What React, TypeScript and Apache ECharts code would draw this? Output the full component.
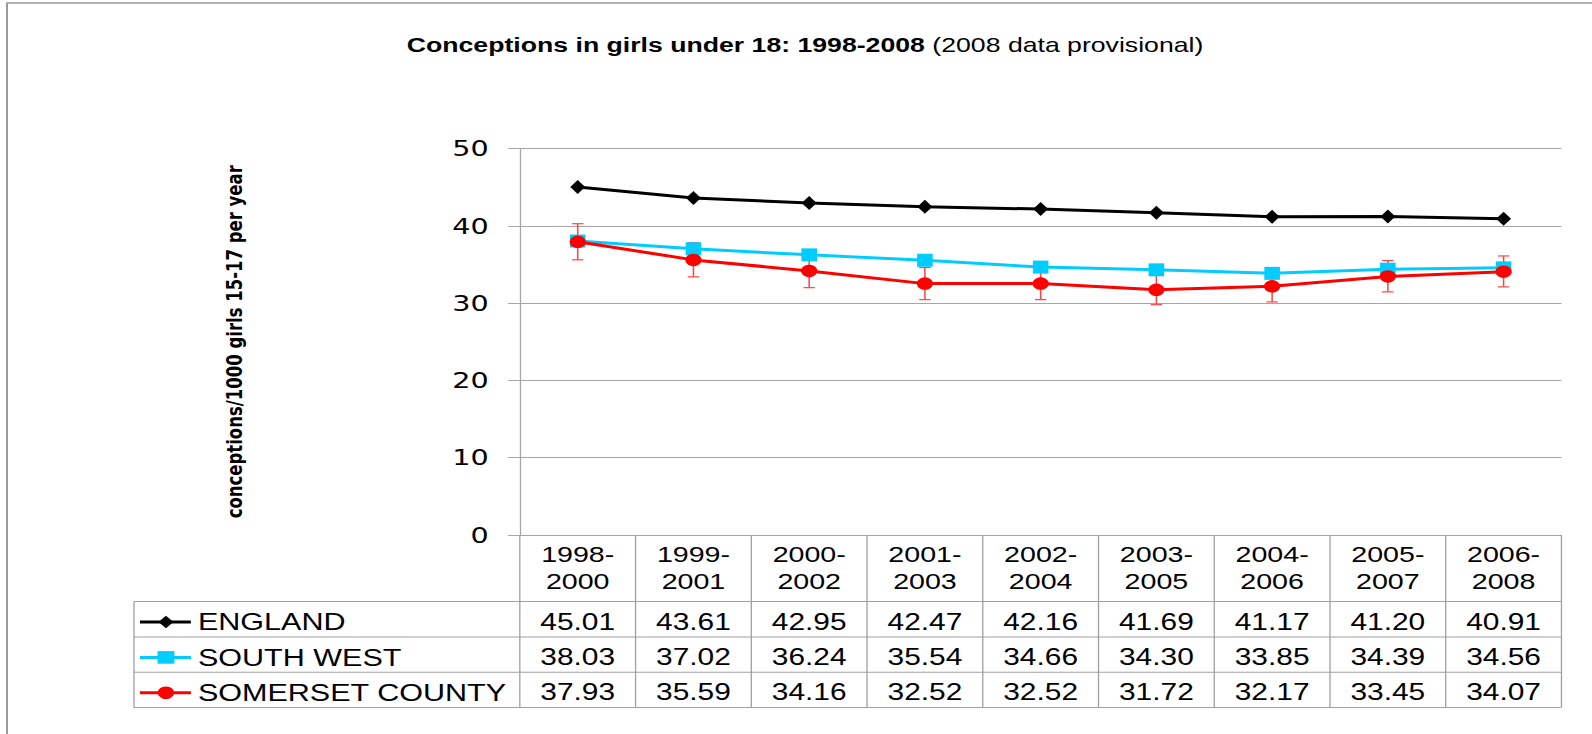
import React, { useEffect, useRef } from 'react';
import * as echarts from 'echarts';

// ---------- data ----------
const TITLE_BOLD = 'Conceptions in girls under 18: 1998-2008';
const TITLE_NORMAL = ' (2008 data provisional)';
const Y_AXIS_NAME = 'conceptions/1000 girls 15-17 per year';

const categories = [
  '1998-2000', '1999-2001', '2000-2002', '2001-2003', '2002-2004',
  '2003-2005', '2004-2006', '2005-2007', '2006-2008',
];
const seriesNames = ['ENGLAND', 'SOUTH WEST', 'SOMERSET COUNTY'];
const england = [45.01, 43.61, 42.95, 42.47, 42.16, 41.69, 41.17, 41.2, 40.91];
const southWest = [38.03, 37.02, 36.24, 35.54, 34.66, 34.3, 33.85, 34.39, 34.56];
const somerset = [37.93, 35.59, 34.16, 32.52, 32.52, 31.72, 32.17, 33.45, 34.07];
// error bar extents (95% CI) for Somerset
const somersetLow = [35.6, 33.4, 32.0, 30.45, 30.45, 29.8, 30.15, 31.45, 32.1];
const somersetHigh = [40.27, 37.8, 36.3, 34.6, 34.6, 33.65, 34.2, 35.5, 36.1];
const yMin = 0;
const yMax = 50;
const yInterval = 10;

// ---------- styling ----------
const colors = ['#000000', '#00ccff', '#ff0000'];
const CHART_W = 1225;
const CHART_H = 734;
const STRETCH = 1592 / CHART_W;
const GRID_COLOR = '#a6a6a6';
const TABLE_COLOR = '#a0a0a0';
const TABLE_FONT = 'Liberation Sans, Arial, sans-serif';

export default function App() {
  const ref = useRef<HTMLDivElement>(null);

  useEffect(() => {
    document.body.style.overflow = 'hidden';
    const el = ref.current!;
    const chart = echarts.init(el, null, { renderer: 'svg' });

    const symbols = ['diamond', 'rect', 'circle'];
    const symbolSizes: any[] = [[11.5, 14], [12, 13], 12.5];
    const seriesData = [england, southWest, somerset];

    const lineSeries = seriesData.map((d, i) => ({
      type: 'line',
      name: seriesNames[i],
      data: d,
      z: 2 + i,
      symbol: symbols[i],
      symbolSize: symbolSizes[i],
      showSymbol: true,
      itemStyle: { color: colors[i] },
      lineStyle: { color: colors[i], width: 3 },
      emphasis: { disabled: true },
    }));

    const errorSeries = {
      type: 'custom',
      name: 'CI',
      z: 1,
      data: somersetLow.map((lo, i) => [i, lo, somersetHigh[i]]),
      encode: { x: 0, y: [1, 2] },
      renderItem: (params: any, api: any) => {
        const x = api.value(0);
        const lo = api.coord([x, api.value(1)]);
        const hi = api.coord([x, api.value(2)]);
        const cap = 4.4;
        const style = { stroke: '#ff4545', lineWidth: 1.2 };
        return {
          type: 'group',
          children: [
            { type: 'line', shape: { x1: lo[0], y1: lo[1], x2: hi[0], y2: hi[1] }, style },
            { type: 'line', shape: { x1: lo[0] - cap, y1: lo[1], x2: lo[0] + cap, y2: lo[1] }, style },
            { type: 'line', shape: { x1: hi[0] - cap, y1: hi[1], x2: hi[0] + cap, y2: hi[1] }, style },
          ],
        };
      },
    };

    const option: any = {
      animation: false,
      backgroundColor: '#ffffff',
      title: {
        text: `{b|${TITLE_BOLD}}{n|${TITLE_NORMAL}}`,
        left: 308,
        top: 29,
        textStyle: {
          rich: {
            b: { fontWeight: 'bold', fontSize: 20.5, fontFamily: TABLE_FONT, color: '#000' },
            n: { fontWeight: 'normal', fontSize: 20.5, fontFamily: TABLE_FONT, color: '#000' },
          },
        },
      },
      grid: { left: 400, right: 23.5, top: 148.5, bottom: 199, containLabel: false },
      xAxis: {
        type: 'category',
        data: categories,
        boundaryGap: true,
        axisLine: { show: true, lineStyle: { color: GRID_COLOR, width: 1 } },
        axisTick: { show: false },
        axisLabel: {
          interval: 0,
          margin: 6,
          fontSize: 22,
          lineHeight: 27,
          fontFamily: TABLE_FONT,
          color: '#000',
          formatter: (v: string) => v.replace('-', '-\n'),
        },
        splitLine: { show: false },
      },
      yAxis: {
        type: 'value',
        min: yMin,
        max: yMax,
        interval: yInterval,
        name: Y_AXIS_NAME,
        nameLocation: 'middle',
        nameRotate: 90,
        nameGap: 211,
        nameTextStyle: {
          fontFamily: 'DejaVu Sans, sans-serif',
          fontWeight: 'bold',
          fontSize: 16.5,
          color: '#000',
        },
        axisLine: { show: true, lineStyle: { color: GRID_COLOR, width: 1 } },
        axisTick: { show: true, length: 9, inside: false, lineStyle: { color: GRID_COLOR } },
        axisLabel: {
          margin: 24,
          fontSize: 22,
          fontFamily: 'DejaVu Sans, sans-serif',
          color: '#000',
        },
        splitLine: { show: true, lineStyle: { color: GRID_COLOR, width: 1 } },
      },
      series: [errorSeries, ...lineSeries],
    };

    chart.setOption(option);

    // ---------- data table built from the axis scale ----------
    const cx = categories.map((_, i) => chart.convertToPixel({ xAxisIndex: 0 }, i) as number);
    const band = cx[1] - cx[0];
    const plotLeft = cx[0] - band / 2;
    const plotRight = cx[cx.length - 1] + band / 2;
    const axisY = chart.convertToPixel({ yAxisIndex: 0 }, yMin) as number;
    const headerBottom = axisY + 66.6;
    const rowH = 35.33;
    const tableLeft = 103.1;
    const tableBottom = headerBottom + rowH * seriesNames.length;
    const lineStyle = { stroke: TABLE_COLOR, lineWidth: 1 };

    const g: any[] = [];
    // outer frame of the chart area
    g.push({
      type: 'rect',
      silent: true,
      z: -10,
      shape: { x: 5.4, y: 3, width: 3000, height: 3000 },
      style: { fill: 'none', stroke: '#9a9a9a', lineWidth: 1.5 },
    });
    // horizontal table lines
    for (let r = 0; r <= seriesNames.length; r++) {
      const y = headerBottom + r * rowH;
      g.push({ type: 'line', silent: true, shape: { x1: tableLeft, y1: y, x2: plotRight, y2: y }, style: lineStyle });
    }
    // vertical lines
    g.push({ type: 'line', silent: true, shape: { x1: tableLeft, y1: headerBottom, x2: tableLeft, y2: tableBottom }, style: lineStyle });
    for (let k = 0; k <= categories.length; k++) {
      const x = plotLeft + k * band;
      g.push({ type: 'line', silent: true, shape: { x1: x, y1: axisY, x2: x, y2: tableBottom }, style: lineStyle });
    }
    // rows: legend key, name, values
    seriesData.forEach((d, r) => {
      const yc = headerBottom + r * rowH + rowH / 2 + 2.8;
      const kx1 = 107.7;
      const kx2 = 146.9;
      const km = 127.7;
      g.push({ type: 'line', silent: true, shape: { x1: kx1, y1: yc, x2: kx2, y2: yc }, style: { stroke: colors[r], lineWidth: 3 } });
      if (r === 0) {
        g.push({ type: 'polygon', silent: true, shape: { points: [[km - 5.8, yc], [km, yc - 6.3], [km + 5.8, yc], [km, yc + 6.3]] }, style: { fill: colors[r] } });
      } else if (r === 1) {
        g.push({ type: 'rect', silent: true, shape: { x: km - 6.5, y: yc - 6.3, width: 13, height: 12.6 }, style: { fill: colors[r] } });
      } else {
        g.push({ type: 'circle', silent: true, shape: { cx: km, cy: yc, r: 6.3 }, style: { fill: colors[r] } });
      }
      g.push({
        type: 'text',
        silent: true,
        x: 152.3,
        y: yc,
        style: { text: seriesNames[r], fontSize: 23.5, fontFamily: TABLE_FONT, fill: '#000', align: 'left', verticalAlign: 'middle' },
      });
      d.forEach((v, i) => {
        g.push({
          type: 'text',
          silent: true,
          x: cx[i],
          y: yc,
          style: { text: v.toFixed(2), fontSize: 23, fontFamily: TABLE_FONT, fill: '#000', align: 'center', verticalAlign: 'middle' },
        });
      });
    });

    chart.setOption({ graphic: { elements: g } });

    return () => {
      chart.dispose();
    };
  }, []);

  return (
    <div
      ref={ref}
      style={{
        position: 'absolute',
        left: 0,
        top: 0,
        width: CHART_W,
        height: CHART_H,
        transform: `scaleX(${STRETCH})`,
        transformOrigin: '0 0',
      }}
    />
  );
}
